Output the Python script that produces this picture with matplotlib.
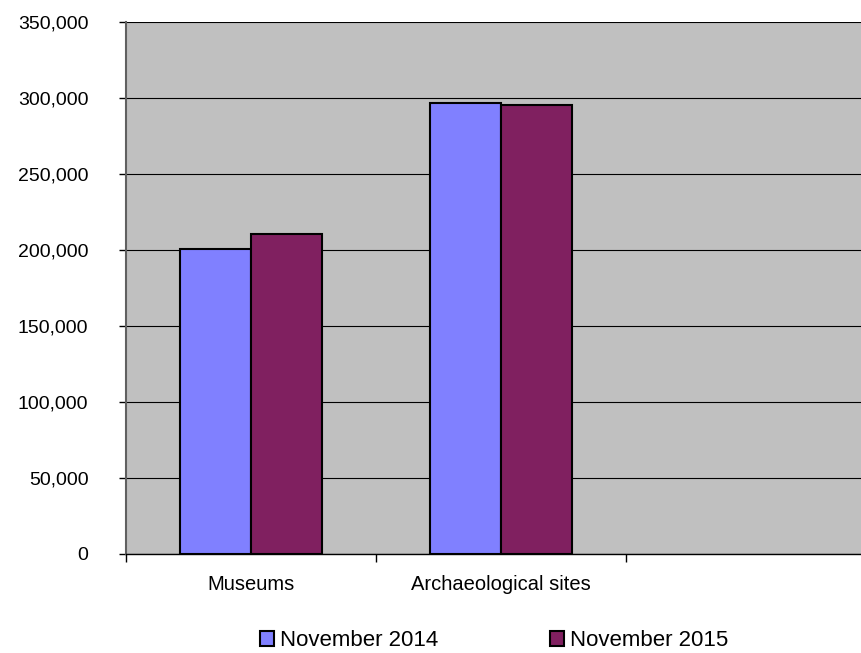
from matplotlib import pyplot as plt
from matplotlib.ticker import FuncFormatter, MultipleLocator
import numpy as np

plt.rcParams['font.family'] = ['Liberation Sans', 'DejaVu Sans']

# data
categories = ["Museums", "Archaeological sites", ""]
nov_2014 = [200500, 296500, 0]
nov_2015 = [210300, 295200, 0]
series_names = ["November 2014", "November 2015"]
colors = ["#8080FF", "#802060"]

fig = plt.figure(figsize=(8.62, 6.53), dpi=100)
ax = fig.add_axes([126 / 862, 1 - 554 / 653, 750 / 862, (554 - 22) / 653])
ax.set_facecolor("#C0C0C0")

x = np.arange(len(categories))
w = 0.285
ax.bar(x[:2] - w / 2, nov_2014[:2], w, color=colors[0], edgecolor="black", linewidth=1.5,
       label=series_names[0], zorder=3)
ax.bar(x[:2] + w / 2, nov_2015[:2], w, color=colors[1], edgecolor="black", linewidth=1.5,
       label=series_names[1], zorder=3)

ax.set_xlim(-0.5, len(categories) - 0.5)
ax.set_ylim(0, 350000)
ax.yaxis.set_major_locator(MultipleLocator(50000))
ax.yaxis.set_major_formatter(FuncFormatter(lambda v, p: f"{int(v):,}"))
ax.grid(axis="y", color="black", linewidth=0.8, zorder=1)

# category labels at centres, tick marks at slot boundaries
ax.set_xticks(x)
ax.set_xticklabels(categories, fontsize=14.5)
ax.tick_params(axis="x", which="major", length=0, pad=15)
ax.set_xticks(np.arange(len(categories) + 1) - 0.5, minor=True)
ax.tick_params(axis="x", which="minor", length=6, width=1, direction="out")
ax.tick_params(axis="y", labelsize=14, length=5, width=1, direction="out", pad=22)

for s in ["top", "right"]:
    ax.spines[s].set_visible(False)
ax.spines["left"].set_linewidth(1.5)
ax.spines["left"].set_color("#606060")
ax.spines["bottom"].set_linewidth(1)

fig.legend(loc="center", bbox_to_anchor=(494 / 862, 1 - 641 / 653), ncol=2, frameon=False,
           fontsize=16, handlelength=0.63, handleheight=0.63, handletextpad=0.3,
           columnspacing=5.0)

fig.savefig("out.png", dpi=100)
